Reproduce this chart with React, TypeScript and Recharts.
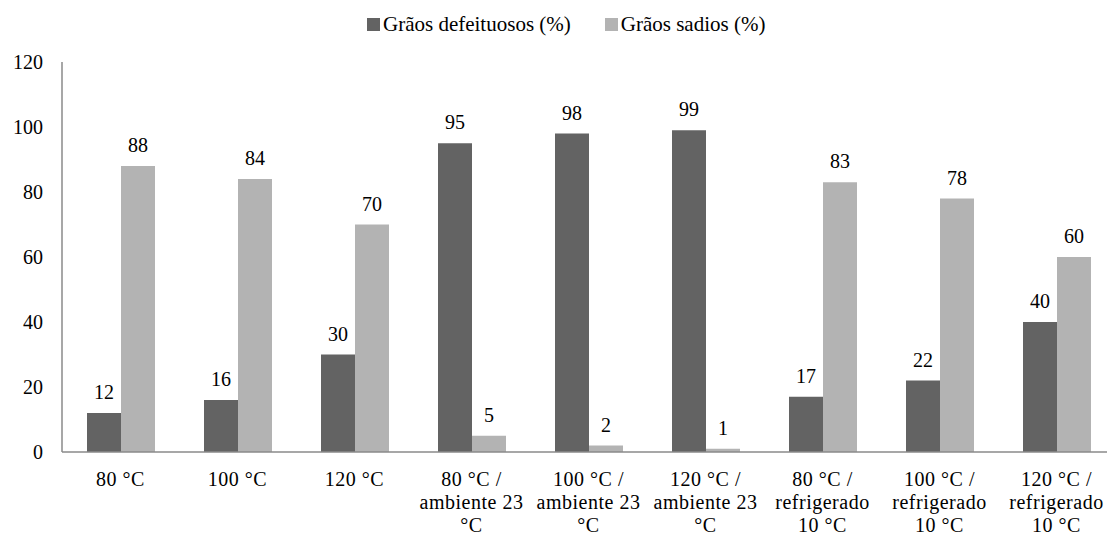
import React from "react";
import { BarChart, Bar, XAxis, YAxis, LabelList } from "recharts";

const categories = [
  "80 °C",
  "100 °C",
  "120 °C",
  "80 °C /\nambiente 23\n°C",
  "100 °C /\nambiente 23\n°C",
  "120 °C /\nambiente 23\n°C",
  "80 °C /\nrefrigerado\n10 °C",
  "100 °C /\nrefrigerado\n10 °C",
  "120 °C /\nrefrigerado\n10 °C",
];
const defeituosos = [12, 16, 30, 95, 98, 99, 17, 22, 40];
const sadios = [88, 84, 70, 5, 2, 1, 83, 78, 60];
const yTicks = [0, 20, 40, 60, 80, 100, 120];
const seriesNames = ["Grãos defeituosos (%)", "Grãos sadios (%)"];
const seriesColors = ["#636363", "#b3b3b3"];

const FONT = "Liberation Serif";

const data = categories.map((name, i) => ({
  name,
  defeituosos: defeituosos[i],
  sadios: sadios[i],
}));

function CategoryTick(props: any) {
  const { x, y, payload } = props;
  const lines = String(payload.value).split("\n");
  return (
    <text
      x={x}
      y={y}
      textAnchor="middle"
      fill="#000"
      fontSize={20}
      fontFamily={FONT}
      style={{ fontFamily: FONT, letterSpacing: 0.5 }}
    >
      {lines.map((line, i) => (
        <tspan key={i} x={x} dy={i === 0 ? 34 : 23}>
          {line}
        </tspan>
      ))}
    </text>
  );
}

function ChartLegend() {
  return (
    <div
      style={{
        position: "absolute",
        top: 4,
        left: 359,
        display: "flex",
        alignItems: "center",
        fontFamily: FONT,
        fontSize: 21,
        lineHeight: "24px",
        color: "#000",
        whiteSpace: "nowrap",
        zIndex: 2,
      }}
    >
      {seriesNames.map((name, i) => (
        <div
          key={name}
          style={{ display: "flex", alignItems: "center", marginRight: 34 }}
        >
          <span
            style={{
              display: "inline-block",
              width: 13,
              height: 13,
              background: seriesColors[i],
              marginRight: 3,
            }}
          />
          <span>{name}</span>
        </div>
      ))}
    </div>
  );
}

const labelStyle = { fontFamily: FONT };

export default function App() {
  return (
    <div
      style={{
        position: "absolute",
        top: 8,
        left: 8,
        width: 1099,
        height: 529,
        overflow: "hidden",
        background: "#fff",
        fontFamily: FONT,
      }}
    >
      <ChartLegend />
      <BarChart
        width={1107}
        height={529}
        data={data}
        margin={{ top: 54, right: 0, left: 0, bottom: 0 }}
        barSize={34}
        barGap={0}
        style={{ fontFamily: FONT }}
      >
        <XAxis
          dataKey="name"
          interval={0}
          tickLine={false}
          tickSize={0}
          tickMargin={0}
          height={85}
          axisLine={{ stroke: "#8a8a8a", strokeWidth: 1.5 }}
          tick={<CategoryTick />}
        />
        <YAxis
          width={54}
          domain={[0, 120]}
          ticks={yTicks}
          tickLine={false}
          tickSize={0}
          tickMargin={19}
          axisLine={{ stroke: "#8a8a8a", strokeWidth: 1.5 }}
          tick={{ fill: "#000", fontSize: 20, fontFamily: FONT, style: labelStyle }}
        />
        <Bar
          dataKey="defeituosos"
          name={seriesNames[0]}
          fill={seriesColors[0]}
          isAnimationActive={false}
        >
          <LabelList
            dataKey="defeituosos"
            position="top"
            offset={14}
            fill="#000"
            fontSize={20}
            fontFamily={FONT}
            style={labelStyle}
          />
        </Bar>
        <Bar
          dataKey="sadios"
          name={seriesNames[1]}
          fill={seriesColors[1]}
          isAnimationActive={false}
        >
          <LabelList
            dataKey="sadios"
            position="top"
            offset={14}
            fill="#000"
            fontSize={20}
            fontFamily={FONT}
            style={labelStyle}
          />
        </Bar>
      </BarChart>
    </div>
  );
}
